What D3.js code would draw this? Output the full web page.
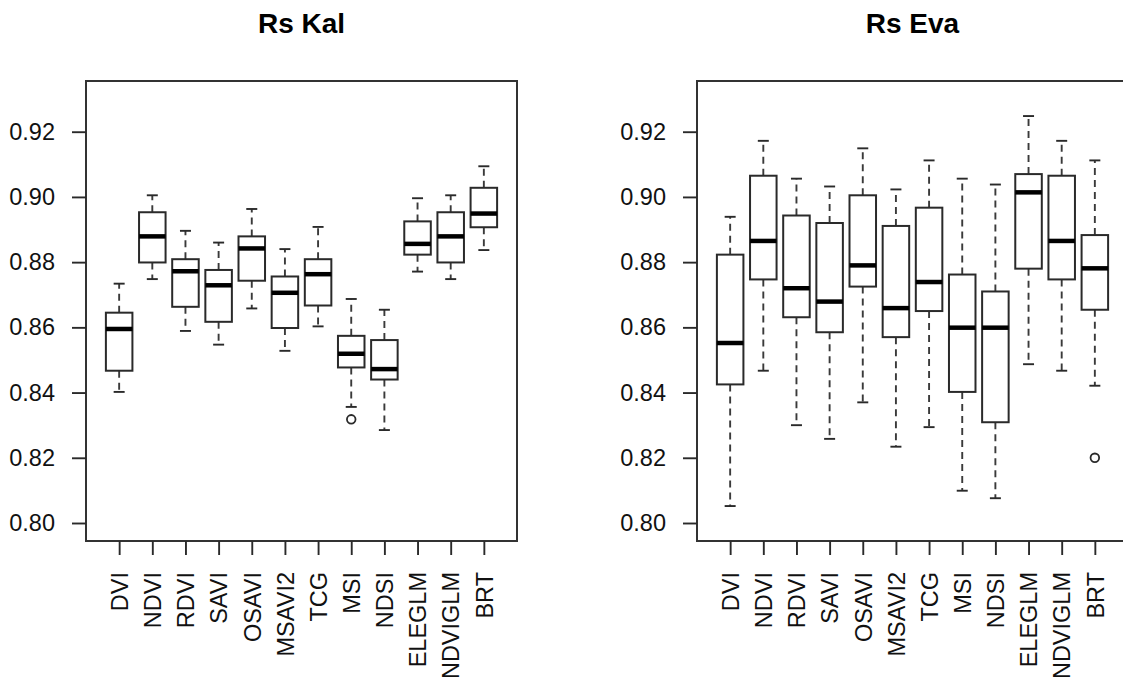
<!DOCTYPE html>
<html>
<head>
<meta charset="utf-8">
<script src="https://cdn.jsdelivr.net/npm/d3@7"></script>
<style>
  html, body { margin: 0; padding: 0; background: #fff; }
  svg { display: block; font-family: "Liberation Sans", Arial, sans-serif; }
</style>
</head>
<body>
<svg id="chart" width="1123" height="679"></svg>
<script>
// ---- data ----
const categories = ["DVI","NDVI","RDVI","SAVI","OSAVI","MSAVI2","TCG","MSI","NDSI","ELEGLM","NDVIGLM","BRT"];
const yTicks = [0.80, 0.82, 0.84, 0.86, 0.88, 0.90, 0.92];

// Rs Kal
const kalLow  = [0.8402, 0.8748, 0.8589, 0.8547, 0.8658, 0.8528, 0.8603, 0.8356, 0.8285, 0.8771, 0.8748, 0.8837];
const kalQ1   = [0.8467, 0.8799, 0.8663, 0.8617, 0.8743, 0.8598, 0.8667, 0.8477, 0.8440, 0.8823, 0.8799, 0.8907];
const kalMed  = [0.8595, 0.8879, 0.8772, 0.8729, 0.8842, 0.8706, 0.8763, 0.8519, 0.8472, 0.8856, 0.8879, 0.8949];
const kalQ3   = [0.8645, 0.8953, 0.8809, 0.8776, 0.8879, 0.8756, 0.8809, 0.8574, 0.8561, 0.8925, 0.8953, 0.9028];
const kalHigh = [0.8734, 0.9005, 0.8896, 0.8860, 0.8963, 0.8840, 0.8908, 0.8687, 0.8654, 0.8996, 0.9005, 0.9094];
const kalOutliers = [{cat: "MSI", value: 0.8318}];

// Rs Eva
const evaLow  = [0.8052, 0.8467, 0.8300, 0.8258, 0.8370, 0.8234, 0.8294, 0.8099, 0.8076, 0.8487, 0.8467, 0.8421];
const evaQ1   = [0.8425, 0.8747, 0.8631, 0.8585, 0.8725, 0.8570, 0.8650, 0.8402, 0.8309, 0.8780, 0.8747, 0.8654];
const evaMed  = [0.8552, 0.8865, 0.8720, 0.8679, 0.8790, 0.8659, 0.8739, 0.8599, 0.8599, 0.9014, 0.8865, 0.8781];
const evaQ3   = [0.8823, 0.9065, 0.8943, 0.8920, 0.9005, 0.8911, 0.8967, 0.8762, 0.8710, 0.9070, 0.9065, 0.8883];
const evaHigh = [0.8939, 0.9172, 0.9056, 0.9032, 0.9149, 0.9023, 0.9112, 0.9056, 0.9038, 0.9248, 0.9172, 0.9112];
const evaOutliers = [{cat: "BRT", value: 0.8200}];

const panels = [
  {title: "Rs Kal", left: 86, low: kalLow, q1: kalQ1, med: kalMed, q3: kalQ3, high: kalHigh, out: kalOutliers},
  {title: "Rs Eva", left: 697, low: evaLow, q1: evaQ1, med: evaMed, q3: evaQ3, high: evaHigh, out: evaOutliers}
];

// ---- layout ----
const svg = d3.select("#chart");
const plotTop = 81, plotBottom = 541, panelW = 431;
const ink = "#2a2a2a";
const y = d3.scaleLinear().domain([0.79448, 0.93555]).range([plotBottom, plotTop]);

panels.forEach(p => {
  const x = d3.scalePoint().domain(categories).range([p.left, p.left + panelW]).padding(1);
  const boxW = x.step() * 0.8;
  const capW = 11;
  const g = svg.append("g");

  const rows = categories.map((c, i) => ({cat: c, low: p.low[i], q1: p.q1[i], med: p.med[i], q3: p.q3[i], high: p.high[i]}));

  // whiskers (dashed)
  g.selectAll("line.wlo").data(rows).join("line")
    .attr("x1", d => x(d.cat)).attr("x2", d => x(d.cat))
    .attr("y1", d => y(d.q1)).attr("y2", d => y(d.low))
    .attr("stroke", "#3a3a3a").attr("stroke-width", 1.9).attr("stroke-dasharray", "7,5");
  g.selectAll("line.whi").data(rows).join("line")
    .attr("x1", d => x(d.cat)).attr("x2", d => x(d.cat))
    .attr("y1", d => y(d.q3)).attr("y2", d => y(d.high))
    .attr("stroke", "#3a3a3a").attr("stroke-width", 1.9).attr("stroke-dasharray", "7,5");
  // staples
  ["low", "high"].forEach(k => {
    g.selectAll("line.cap" + k).data(rows).join("line")
      .attr("x1", d => x(d.cat) - capW / 2).attr("x2", d => x(d.cat) + capW / 2)
      .attr("y1", d => y(d[k])).attr("y2", d => y(d[k]))
      .attr("stroke", ink).attr("stroke-width", 1.9);
  });
  // boxes
  g.selectAll("rect.box").data(rows).join("rect")
    .attr("x", d => x(d.cat) - boxW / 2).attr("width", boxW)
    .attr("y", d => y(d.q3)).attr("height", d => y(d.q1) - y(d.q3))
    .attr("fill", "#fff").attr("stroke", ink).attr("stroke-width", 2);
  // medians
  g.selectAll("line.med").data(rows).join("line")
    .attr("x1", d => x(d.cat) - boxW / 2).attr("x2", d => x(d.cat) + boxW / 2)
    .attr("y1", d => y(d.med)).attr("y2", d => y(d.med))
    .attr("stroke", "#000").attr("stroke-width", 4.5);
  // outliers
  g.selectAll("circle.out").data(p.out).join("circle")
    .attr("cx", d => x(d.cat)).attr("cy", d => y(d.value)).attr("r", 4.3)
    .attr("fill", "none").attr("stroke", ink).attr("stroke-width", 1.8);

  // frame
  g.append("rect").attr("x", p.left).attr("y", plotTop).attr("width", panelW).attr("height", plotBottom - plotTop)
    .attr("fill", "none").attr("stroke", "#333").attr("stroke-width", 2);

  // y axis
  const ya = g.append("g").attr("transform", `translate(${p.left},0)`)
    .call(d3.axisLeft(y).tickValues(yTicks).tickFormat(d3.format(".2f")).tickSize(14).tickPadding(17));
  ya.select(".domain").remove();
  ya.selectAll(".tick line").attr("stroke", ink).attr("stroke-width", 1.9);
  ya.selectAll(".tick text").attr("font-size", 23.5).attr("fill", "#111")
    .attr("font-family", "'Liberation Sans', Arial, sans-serif");

  // x axis
  const xa = g.append("g").attr("transform", `translate(0,${plotBottom})`)
    .call(d3.axisBottom(x).tickSize(14).tickPadding(17));
  xa.select(".domain").remove();
  xa.selectAll(".tick line").attr("stroke", ink).attr("stroke-width", 1.9);
  xa.selectAll(".tick text")
    .attr("font-size", 23.5).attr("fill", "#111")
    .attr("font-family", "'Liberation Sans', Arial, sans-serif")
    .attr("text-anchor", "end")
    .attr("transform", "rotate(-90)")
    .attr("x", -31).attr("y", 0).attr("dy", "0.35em");

  // title
  g.append("text").attr("x", p.left + panelW / 2).attr("y", 33)
    .attr("text-anchor", "middle").attr("font-size", 28).attr("font-weight", "bold")
    .attr("fill", "#000").text(p.title);
});
</script>
</body>
</html>
